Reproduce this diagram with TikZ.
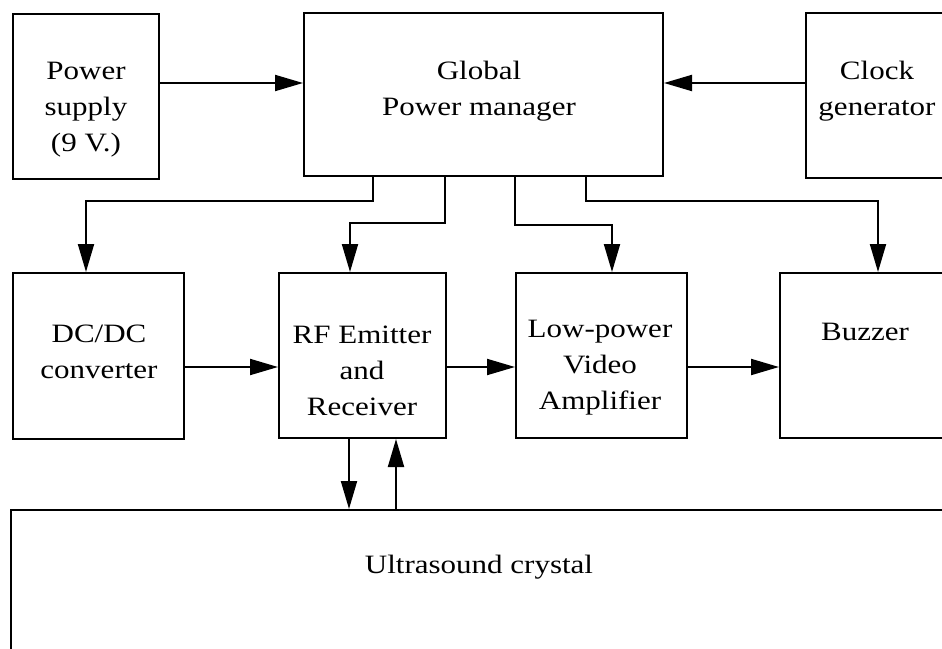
\documentclass[tikz,border=0pt]{standalone}
\usepackage{fontspec}
\setmainfont{Liberation Serif}[FakeStretch=1.17]
\usetikzlibrary{arrows.meta,calc}
\tikzset{
  blk/.style={draw,line width=2pt,rectangle,inner sep=0pt,anchor=north west},
  lbl/.style={align=center,inner sep=0pt,font=\fontsize{26.5}{36}\selectfont},
  arr/.style={line width=2pt,-{Triangle[length=28pt,width=16pt]}},
}
\begin{document}
\begin{tikzpicture}[x=1pt,y=-1pt]
\useasboundingbox (0,0) rectangle (942,648);
\clip (0,0) rectangle (942,648);
\fill[white] (0,0) rectangle (942,648);
% boxes
\node[blk,minimum width=146pt,minimum height=165pt] (ps) at (12,13) {};
\node[blk,minimum width=359pt,minimum height=163pt] (gpm) at (303,12) {};
\node[blk,minimum width=160pt,minimum height=165pt] (clk) at (805,12) {};
\node[blk,minimum width=171pt,minimum height=166pt] (dc) at (12,272) {};
\node[blk,minimum width=167pt,minimum height=165pt] (rf) at (278,272) {};
\node[blk,minimum width=171pt,minimum height=165pt] (lp) at (515,272) {};
\node[blk,minimum width=185pt,minimum height=165pt] (bz) at (779,272) {};
\node[blk,minimum width=960pt,minimum height=200pt] (us) at (10,509) {};
% labels
\node[lbl] (psT) at (86,110) {Power\\supply\\(9 V.)};
\node[lbl] (gpmT) at (479,91) {Global\\Power manager};
\node[lbl] (clkT) at (877,91) {Clock\\generator};
\node[lbl] (dcT) at (99,352) {DC/DC\\converter};
\node[lbl] (rfT) at (362,371) {RF Emitter\\and\\Receiver};
\node[lbl] (lpT) at (600,368) {Low-power\\Video\\Amplifier};
\node[lbl] (bzT) at (865,332) {Buzzer};
\node[lbl] (usT) at (479,567) {Ultrasound crystal};
% horizontal arrows
\draw[arr] (ps.east |- 0,83) -- (gpm.west |- 0,83);
\draw[arr] (clk.west |- 0,83) -- (gpm.east |- 0,83);
\draw[arr] (dc.east |- 0,367) -- (rf.west |- 0,367);
\draw[arr] (rf.east |- 0,367) -- (lp.west |- 0,367);
\draw[arr] (lp.east |- 0,367) -- (bz.west |- 0,367);
% power distribution
\draw[arr] (373,0 |- gpm.south) -- (373,201) -- (86,201) -- (86,0 |- dc.north);
\draw[arr] (445,0 |- gpm.south) -- (445,223) -- (350,223) -- (350,0 |- rf.north);
\draw[arr] (515,0 |- gpm.south) -- (515,225) -- (612,225) -- (612,0 |- lp.north);
\draw[arr] (586,0 |- gpm.south) -- (586,201) -- (878,201) -- (878,0 |- bz.north);
% RF <-> crystal
\draw[arr] (349,0 |- rf.south) -- (349,0 |- us.north);
\draw[arr] (396,0 |- us.north) -- (396,0 |- rf.south);
\end{tikzpicture}
\end{document}
